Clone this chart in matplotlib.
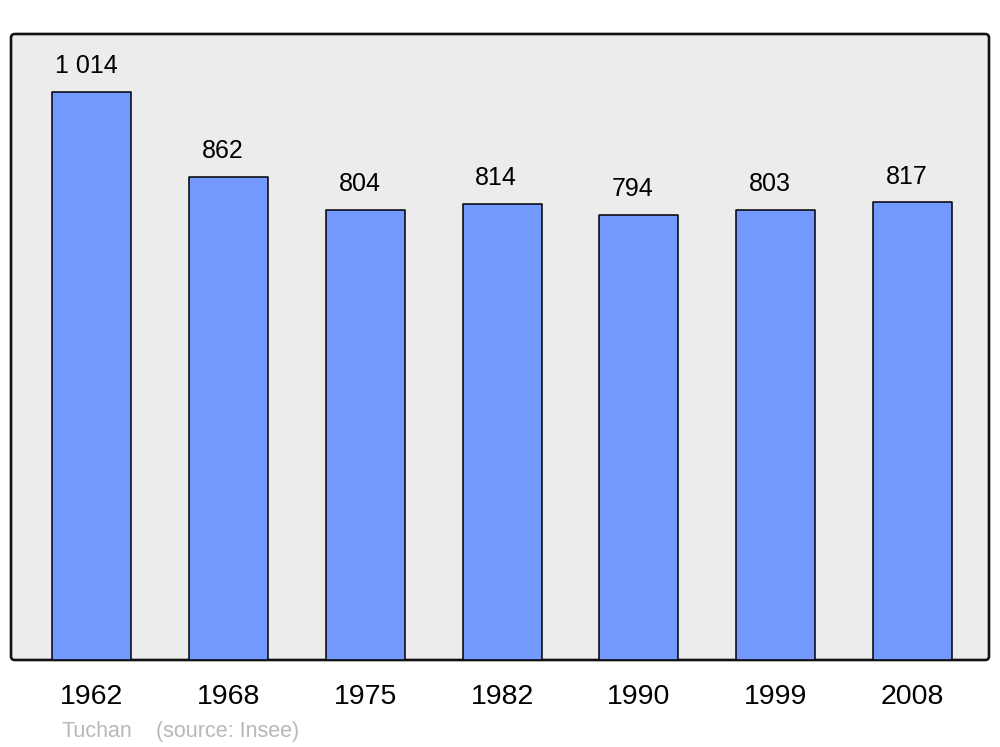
import matplotlib
matplotlib.use("Agg")
import matplotlib.pyplot as plt
from matplotlib.patches import FancyBboxPatch

years = ["1962", "1968", "1975", "1982", "1990", "1999", "2008"]
population = [1014, 862, 804, 814, 794, 803, 817]
value_labels = ["1 014", "862", "804", "814", "794", "803", "817"]

plt.rcParams['font.family'] = ['Liberation Sans', 'DejaVu Sans']

fig = plt.figure(figsize=(10, 7.47), dpi=100)
ax = fig.add_axes([0.011, (747 - 660) / 747, 0.978, 626 / 747])
ax.set_facecolor('none')
for s in ax.spines.values():
    s.set_visible(False)

frame = FancyBboxPatch((0, 0), 1, 1, boxstyle="round,pad=0,rounding_size=0.004",
                       transform=ax.transAxes, facecolor='#ececec', edgecolor='#111111',
                       linewidth=1.9, zorder=0, clip_on=False, mutation_aspect=978/626)
ax.add_patch(frame)

x = list(range(len(years)))
bars = ax.bar(x, population, width=0.578, color='#7399ff', edgecolor='black',
              linewidth=1.1, zorder=2)
for b in bars:
    b.set_joinstyle('round')

ax.set_xlim(-0.592, 6.56)
ax.set_ylim(0, 1117.5)
ax.set_xticks(x)
ax.set_xticklabels(years, fontsize=20.5)
ax.tick_params(axis='x', length=0, pad=17)
ax.set_yticks([])

for xi, v, lab in zip(x, population, value_labels):
    ax.annotate(lab, (xi, v), xytext=(-4.3, 13.5), textcoords='offset points',
                ha='center', va='baseline', fontsize=18)

fig.text(0.062, 1 - 737 / 747, "Tuchan", color='#b8b8b8', fontsize=15.5, va='baseline', ha='left')
fig.text(0.156, 1 - 737 / 747, "(source: Insee)", color='#b8b8b8', fontsize=15.5, va='baseline', ha='left')

fig.savefig("out.png", dpi=100, facecolor='white')
